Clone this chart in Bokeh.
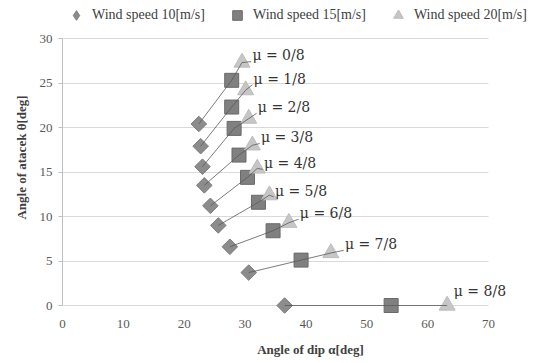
from bokeh.plotting import figure
from bokeh.models import Range1d, Legend, LegendItem, FixedTicker, LabelSet, ColumnDataSource
from bokeh.core.properties import value
from bokeh.embed import file_html
from bokeh.resources import INLINE

# ---- data ----
mu_labels = ["μ = 0/8", "μ = 1/8", "μ = 2/8", "μ = 3/8", "μ = 4/8",
             "μ = 5/8", "μ = 6/8", "μ = 7/8", "μ = 8/8"]
dip_10 = [22.4, 22.7, 23.0, 23.3, 24.3, 25.6, 27.5, 30.6, 36.5]
att_10 = [20.4, 17.9, 15.6, 13.5, 11.2, 9.0, 6.6, 3.7, 0.0]
dip_15 = [27.8, 27.8, 28.2, 29.0, 30.4, 32.2, 34.6, 39.2, 54.0]
att_15 = [25.3, 22.3, 19.9, 16.9, 14.4, 11.6, 8.4, 5.1, 0.0]
dip_20 = [29.5, 30.1, 30.6, 31.2, 32.0, 34.0, 37.2, 44.1, 63.2]
att_20 = [27.3, 24.2, 21.0, 18.0, 15.4, 12.4, 9.3, 5.9, 0.0]
# label anchor points (left edge, text middle) in data units
label_x = [31.2, 31.4, 32.1, 32.6, 33.1, 34.9, 39.0, 46.4, 64.3]
label_y = [28.1, 25.5, 22.3, 18.9, 16.0, 12.9, 10.4, 6.9, 1.6]
x_ticks = [0, 10, 20, 30, 40, 50, 60, 70]
y_ticks = [0, 5, 10, 15, 20, 25, 30]
series_names = ["Wind speed 10[m/s]", "Wind speed 15[m/s]", "Wind speed 20[m/s]"]

SERIF = "Liberation Serif"
NAN = float("nan")

# The frame is stretched to the top, right and slightly below zero so that the
# legend, the last label and the markers on the zero line are not clipped;
# axes and grid are bounded to 0..70 / 0..30.
p = figure(width=558, height=363, output_backend="svg", toolbar_location=None,
           x_range=Range1d(0, 81.5), y_range=Range1d(-1.01, 34.27),
           min_border_left=62, min_border_right=0, min_border_top=0,
           min_border_bottom=49)
p.outline_line_color = None
p.background_fill_color = "white"

# grid
p.xgrid.grid_line_color = None
p.ygrid.grid_line_color = "#d9d9d9"
p.ygrid.ticker = FixedTicker(ticks=y_ticks)
try:
    p.ygrid[0].cross_bounds = (0, 70)
except Exception:
    pass

# axes
p.xaxis.ticker = FixedTicker(ticks=x_ticks)
p.yaxis.ticker = FixedTicker(ticks=y_ticks)
p.xaxis.bounds = (0, 70)
p.yaxis.bounds = (0, 30)
for ax in (p.xaxis[0], p.yaxis[0]):
    ax.axis_line_color = "#bfbfbf"
    ax.major_tick_line_color = "#bfbfbf"
    ax.major_tick_out = 4
    ax.major_tick_in = 0
    ax.minor_tick_line_color = None
    ax.major_label_text_font = SERIF
    ax.major_label_text_font_size = "13px"
    ax.major_label_text_color = "#595959"
    ax.axis_label_text_font = SERIF
    ax.axis_label_text_font_size = "13px"
    ax.axis_label_text_font_style = "bold"
    ax.axis_label_text_color = "#404040"
p.xaxis.axis_line_color = None
p.xaxis.major_tick_line_color = None
p.xaxis.major_tick_out = 0
p.xaxis.axis_label = "Angle of dip α[deg]"
p.yaxis.axis_label = "Angle of atacek θ[deg]"
p.xaxis.major_label_standoff = 5
p.yaxis.major_label_standoff = 6
p.xaxis.axis_label_standoff = 11
p.yaxis.axis_label_standoff = 8

# markers
c10, c15, c20 = "#8c8c8c", "#808080", "#c6c6c6"
e10, e15, e20 = "#7d7d7d", "#6a6a6a", "#bcbcbc"
r10 = p.scatter(dip_10, att_10, marker="square", angle=0.7854, size=11,
                fill_color=c10, line_color=e10)
r15 = p.scatter(dip_15, att_15, marker="square", size=14,
                fill_color=c15, line_color=e15)
r20 = p.scatter(dip_20, att_20, marker="triangle", size=16,
                fill_color=c20, line_color=e20)

# connecting lines: 10 -> 15 -> 20 -> label
xs, ys = [], []
for i in range(len(mu_labels)):
    lx = [dip_10[i], dip_15[i], dip_20[i]]
    ly = [att_10[i], att_15[i], att_20[i]]
    if i < len(mu_labels) - 1:
        lx.append(label_x[i] - 0.2)
        ly.append(label_y[i] - 0.7)
    xs.append(lx)
    ys.append(ly)
p.multi_line(xs, ys, line_color="#595959", line_width=0.8)

lab_src = ColumnDataSource(dict(x=label_x, y=label_y, t=mu_labels))
p.add_layout(LabelSet(x="x", y="y", text="t", source=lab_src,
                      text_font=value("DejaVu Serif"), text_font_size="14px",
                      text_color="#333333", text_baseline="middle",
                      text_align="left"))

# legend proxies (NaN position, never drawn) so the legend shows a diamond
g10 = p.scatter(x=[NAN], y=[NAN], marker="diamond", size=17,
                fill_color=c10, line_color=e10)
g15 = p.scatter(x=[NAN], y=[NAN], marker="square", size=13,
                fill_color=c15, line_color=e15)
g20 = p.scatter(x=[NAN], y=[NAN], marker="triangle", size=15,
                fill_color=c20, line_color=e20)

legend = Legend(items=[LegendItem(label=series_names[0], renderers=[g10]),
                       LegendItem(label=series_names[1], renderers=[g15]),
                       LegendItem(label=series_names[2], renderers=[g20])],
                orientation="horizontal", location="top_left",
                label_text_font=SERIF, label_text_font_size="14px",
                label_text_color="#404040", glyph_width=24, glyph_height=26,
                label_standoff=4, spacing=20, padding=0, margin=2,
                border_line_color=None, background_fill_alpha=0)
p.add_layout(legend)

open("out.html", "w").write(file_html(p, INLINE))
